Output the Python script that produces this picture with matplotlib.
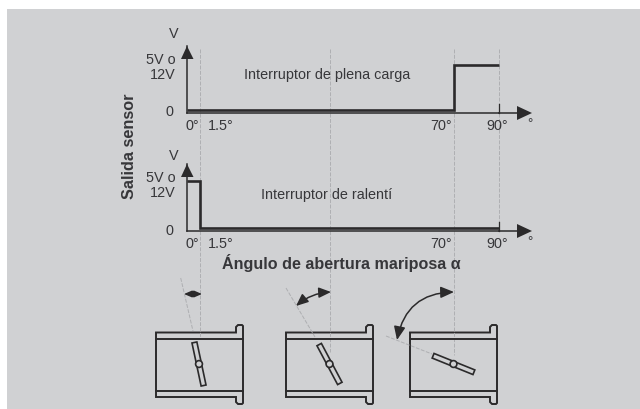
import numpy as np
import matplotlib
matplotlib.use('Agg')
import matplotlib.pyplot as plt
from matplotlib.patches import Rectangle, Circle, Polygon

plt.rcParams['font.family'] = ['Liberation Sans', 'DejaVu Sans']

# sensor output, angle in degrees / volts
angle_full = [0, 70, 70, 90]
volt_full = [0.35, 0.35, 5, 5]
angle_idle = [0, 1.5, 1.5, 90]
volt_idle = [5, 5, 0.35, 0.35]
tick_angles = [0, 1.5, 70, 90]
tick_labels = ['0°', '1.5°', '70°', '90°']
guide_angles = [1.5, 36.5, 70, 90]
valve_angles = [12, 28, 68]  # tilt of the butterfly seen from vertical

# angle axis is not linear in the drawing
axis_deg = [0, 1.5, 70, 90]
axis_px = [0, 13, 267, 312]

W, H = 640, 410
DARK = '#2b2a2b'
TXT = '#37373a'
GUIDE = '#aeafb2'
PANEL = '#d0d1d3'

fig = plt.figure(figsize=(W / 100, H / 100), dpi=100, facecolor='white')

# everything that is not data goes on a pixel sized canvas
bg = fig.add_axes([0, 0, 1, 1], zorder=0)
bg.set_xlim(0, W)
bg.set_ylim(H, 0)
bg.axis('off')
bg.add_patch(Rectangle((7, 10), W - 7, H - 10, fc=PANEL, ec='none'))


def sensor_axes(y0, px_per_volt, angle, volt):
    h = 67
    ax = fig.add_axes([187 / W, (H - y0) / H, 312 / W, h / H], zorder=2)
    ax.patch.set_alpha(0)
    ax.set_xscale('function', functions=(lambda v: np.interp(v, axis_deg, axis_px),
                                         lambda p: np.interp(p, axis_px, axis_deg)))
    ax.set_xlim(0, 90)
    ax.set_ylim(0, h / px_per_volt)
    ax.step(angle, volt, where='post', color=DARK, lw=1.9, solid_joinstyle='miter',
            solid_capstyle='butt', clip_on=False)
    for s in ['top', 'right']:
        ax.spines[s].set_visible(False)
    ax.spines['left'].set_color(DARK)
    ax.spines['bottom'].set_color(DARK)
    ax.spines['left'].set_linewidth(1.1)
    ax.spines['bottom'].set_linewidth(1.1)
    ax.set_xticks([])
    ax.set_yticks([])
    ax.minorticks_off()
    return ax


ax1 = sensor_axes(114, 9.6, angle_full, volt_full)
ax2 = sensor_axes(232, 10, angle_idle, volt_idle)

# guide lines
guide_px = [187 + np.interp(a, axis_deg, axis_px) for a in guide_angles]
guide_end = [340, 353, 356, 232]
for gx, ye in zip(guide_px, guide_end):
    bg.plot([gx, gx], [50, ye], color=GUIDE, lw=0.7, ls=(0, (4, 1.5)))
for yb in [114, 232]:
    bg.plot([499, 499], [yb - 9, yb], color=DARK, lw=0.9)

# axis ends and texts for both charts
for yb, ytop, volt_y, zero_y, v_y in [(114, 47, 67.5, 112, 34), (232, 165, 185.5, 231, 156)]:
    bg.add_patch(Polygon([[181, ytop + 13], [193.5, ytop + 13], [187, ytop]], fc=DARK, ec='none'))
    bg.add_patch(Polygon([[517, yb - 7], [532, yb], [517, yb + 7]], fc=DARK, ec='none'))
    bg.plot([499, 520], [yb, yb], color=DARK, lw=1.1)
    bg.text(174, v_y, 'V', ha='center', va='center', fontsize=10.4, color=TXT)
    bg.text(176, volt_y, '5V o\n12V', ha='right', va='center', fontsize=10.4, color=TXT, linespacing=1.12)
    bg.text(169, zero_y, '0', ha='center', va='center', fontsize=10.4, color=TXT)
    for lab, lx in zip(tick_labels, [192.5, 220.5, 441, 497.5]):
        bg.text(lx, yb + 12, lab, ha='center', va='center', fontsize=10.4, color=TXT)
    bg.text(530, yb + 10, '°', ha='center', va='center', fontsize=9.5, color=TXT)

bg.text(327, 75, 'Interruptor de plena carga', ha='center', va='center', fontsize=10.4, color=TXT)
bg.text(327, 195, 'Interruptor de ralentí', ha='center', va='center', fontsize=10.4, color=TXT)
bg.text(130, 146, 'Salida sensor', rotation=90, ha='center', va='center', fontsize=11.7, weight='bold', color=TXT)
bg.text(341, 263, 'Ángulo de abertura mariposa α', ha='center', va='center', fontsize=11.6,
        weight='bold', color=TXT)

# butterfly housings
lefts = [156, 286, 410]
centers = [199, 329.5, 453.5]
slants = [[(180.7, 279), (193, 332)], [(286, 289), (315, 338)], [(386, 337), (432, 355)]]
arcs = [[(184, 295), (202, 295), 0.0, 6.5], [(296, 307), (331, 293), -0.17, 10.5], [(397, 341), (454, 293), -0.4, 11.5]]

for left, cx, tilt, sl, arc in zip(lefts, centers, valve_angles, slants, arcs):
    r = left + 80
    f = left + 87
    body = [(r, 333.5), (left, 333.5), (left, 398), (r, 398), (r, 403), (r + 2, 405), (f - 1, 405), (f, 404),
            (f, 327), (f - 1, 326), (r + 2, 326), (r, 328), (r, 333.5)]
    bg.add_patch(Polygon(body, closed=True, fc='none', ec=DARK, lw=1.4))
    bg.plot([left, f], [339.7, 339.7], color=DARK, lw=1.4)
    bg.plot([left, f], [391.7, 391.7], color=DARK, lw=1.4)

    # butterfly plate, turned around its shaft
    t = np.radians(tilt)
    ux, uy = -np.sin(t), -np.cos(t)
    px_, py_ = np.cos(t) * 2.5, -np.sin(t) * 2.5
    cy = 365
    plate = [(cx + 22 * ux + px_, cy + 22 * uy + py_), (cx + 22 * ux - px_, cy + 22 * uy - py_),
             (cx - 22 * ux - px_, cy - 22 * uy - py_), (cx - 22 * ux + px_, cy - 22 * uy + py_)]
    bg.add_patch(Polygon(plate, closed=True, fc=PANEL, ec=DARK, lw=1.2, zorder=3))
    bg.add_patch(Circle((cx, cy), 3.4, fc=PANEL, ec=DARK, lw=1.2, zorder=4))

    bg.plot(*zip(*sl), color=GUIDE, lw=0.7, ls=(0, (4, 1.5)))
    bg.annotate('', xy=arc[1], xytext=arc[0],
                arrowprops=dict(arrowstyle='<|-|>,head_length=0.7,head_width=0.3', color=DARK, lw=1.1,
                                shrinkA=0, shrinkB=0, mutation_scale=arc[3],
                                connectionstyle='arc3,rad=%g' % arc[2]))

fig.savefig('out.png', dpi=100)
